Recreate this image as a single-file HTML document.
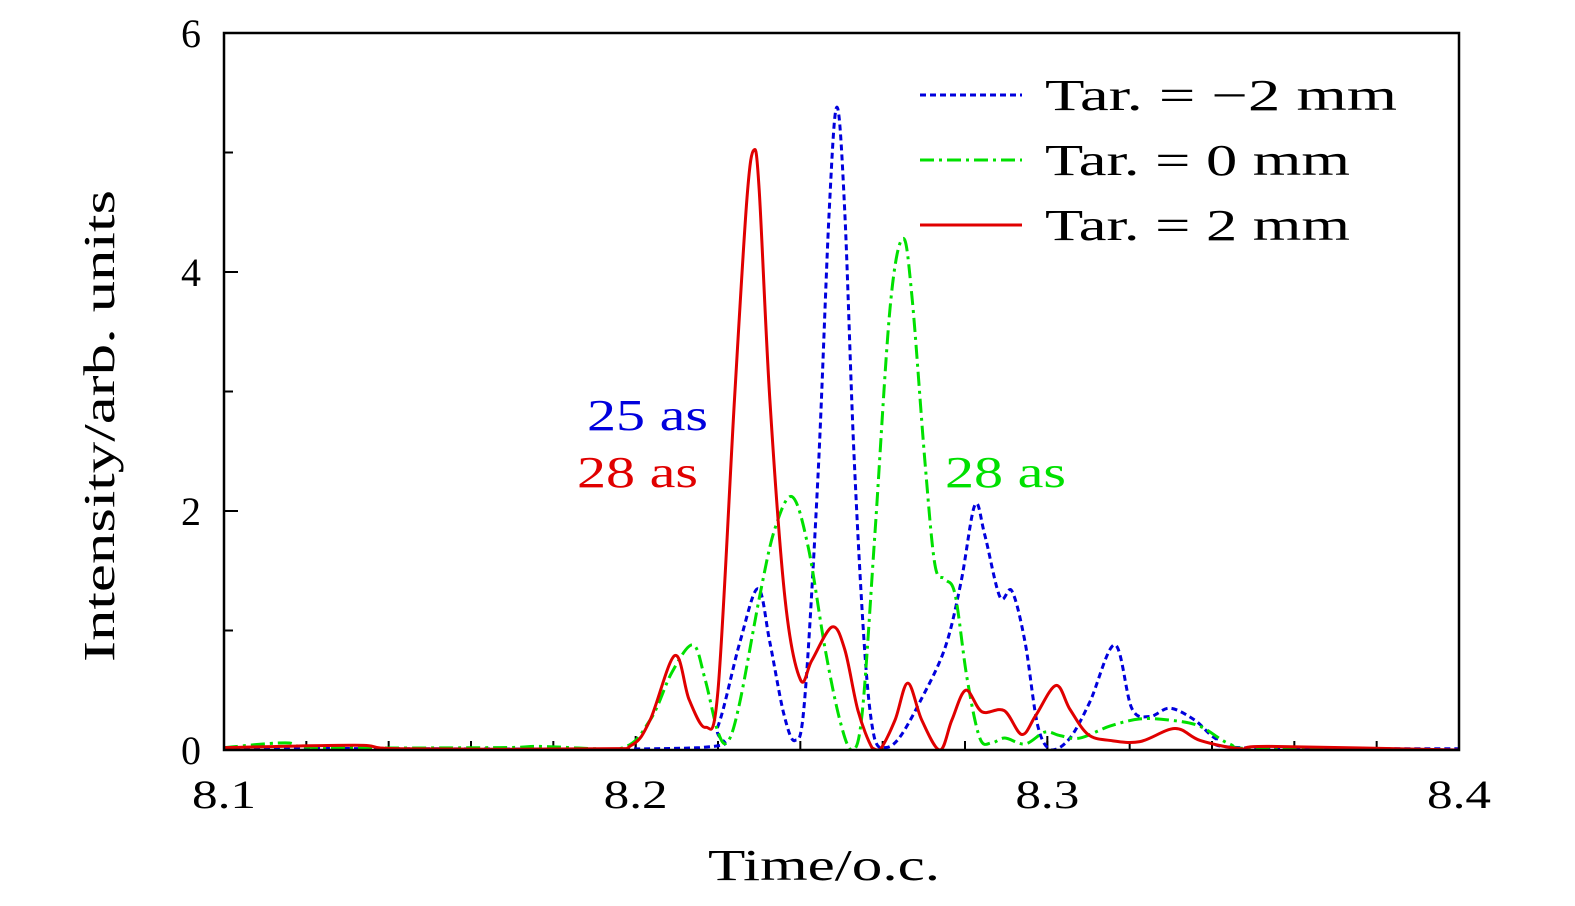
<!DOCTYPE html>
<html><head><meta charset="utf-8">
<style>
html,body{margin:0;padding:0;background:#fff;}
svg{display:block;font-family:"Liberation Serif",serif;}
</style></head>
<body>
<svg id="chart" width="1575" height="906" viewBox="0 0 1575 906" xmlns="http://www.w3.org/2000/svg">
<g id="plot"></g>
</svg>
<script>
const xTicks = [8.1, 8.2, 8.3, 8.4];
const xTickLabels = ["8.1", "8.2", "8.3", "8.4"];
const yTicks = [0, 2, 4, 6];
const yTickLabels = ["0", "2", "4", "6"];

const redT = [8.100,8.132,8.143,8.191,8.199,8.2035,8.2095,8.213,8.217,8.220,8.224,8.227,8.2287,8.230,8.2326,8.2363,8.240,8.2428,8.2477,8.2508,8.254,8.2574,8.2593,8.263,8.2661,8.2695,8.2739,8.2768,8.2802,8.2841,8.2895,8.2938,8.2972,8.3021,8.3055,8.3099,8.3152,8.3225,8.331,8.3371,8.3468,8.354,8.4];
const redY = [0.02,0.04,0.01,0.01,0.04,0.25,0.79,0.42,0.19,0.50,2.93,4.6,5.02,4.69,2.93,1.26,0.59,0.75,1.03,0.84,0.33,0.02,0,0.25,0.56,0.25,0,0.25,0.50,0.32,0.33,0.13,0.29,0.54,0.34,0.13,0.08,0.07,0.18,0.08,0.01,0.03,0];

const blueT = [8.1,8.15,8.2156,8.22,8.2253,8.2297,8.2326,8.236,8.2387,8.241,8.2443,8.247,8.2489,8.2508,8.253,8.2557,8.258,8.2606,8.264,8.269,8.2751,8.279,8.2824,8.2848,8.2885,8.2914,8.2946,8.2977,8.3011,8.3055,8.3103,8.3164,8.3205,8.3249,8.3298,8.3358,8.3407,8.3468,8.4];
const blueY = [0.02,0.01,0.02,0.2,0.9,1.35,0.9,0.3,0.08,0.4,2.3,4.5,5.38,4.5,2.5,0.8,0.1,0.02,0.1,0.4,0.85,1.4,2.05,1.8,1.28,1.33,0.9,0.2,0.0,0.1,0.4,0.88,0.35,0.28,0.35,0.25,0.1,0.02,0.01];

const greenT = [8.1,8.1148,8.123,8.167,8.1768,8.196,8.2035,8.2088,8.2139,8.2168,8.22,8.2224,8.2253,8.2302,8.2338,8.238,8.2419,8.246,8.2496,8.2525,8.255,8.2581,8.2618,8.2649,8.2671,8.2703,8.2727,8.2751,8.2776,8.2805,8.2836,8.2865,8.2897,8.2946,8.2994,8.3031,8.3079,8.3152,8.3225,8.3298,8.337,8.3443,8.3516,8.4];
const greenY = [0.02,0.06,0.02,0.02,0.03,0.01,0.25,0.65,0.88,0.6,0.15,0.07,0.4,1.3,1.85,2.12,1.7,0.85,0.25,0.0,0.3,1.8,3.7,4.28,3.8,2.4,1.55,1.43,1.3,0.6,0.1,0.06,0.1,0.05,0.15,0.12,0.1,0.2,0.26,0.25,0.2,0.05,0.01,0];

const X0=224,X1=1459,Y0=750,Y1=33;
function sx(t){return X0+(t-8.1)/0.3*(X1-X0);}
function sy(v){return Y0-v/6*(Y0-Y1);}
const NS="http://www.w3.org/2000/svg";
const plot=document.getElementById('plot');
function mk(tag,attrs,parent){const e=document.createElementNS(NS,tag);for(const k in attrs)e.setAttribute(k,attrs[k]);(parent||plot).appendChild(e);return e;}
function pathFrom(T,Y){
  const p=T.map((t,i)=>[sx(t),sy(Y[i])]);
  let d=`M${p[0][0]},${p[0][1]}`;
  for(let i=0;i<p.length-1;i++){
    const a=p[Math.max(0,i-1)],b=p[i],c=p[i+1],e=p[Math.min(p.length-1,i+2)];
    let c1y=b[1]+(c[1]-a[1])/6, c2y=c[1]-(e[1]-b[1])/6;
    c1y=Math.min(c1y,Y0);c2y=Math.min(c2y,Y0);
    d+=` C${b[0]+(c[0]-a[0])/6},${c1y} ${c[0]-(e[0]-b[0])/6},${c2y} ${c[0]},${c[1]}`;
  }
  return d;
}
const defs=mk('defs',{});
const cp=mk('clipPath',{id:'clip'},defs);
mk('rect',{x:X0,y:Y1,width:X1-X0,height:Y0-Y1},cp);

for(let k=0;k<=15;k++){
  const t=8.1+k*0.02;
  const x=sx(t);
  const tk=mk('line',{x1:x,x2:x,y1:Y0,y2:Y0-9,stroke:'#000','stroke-width':2});
  
  
}
xTicks.forEach((t,i)=>{
  const x=sx(t);
  const tk=mk('line',{x1:x,x2:x,y1:Y0,y2:Y0-14,stroke:'#000','stroke-width':2});
  
  
  const lb=mk('text',{x:x,y:808,'text-anchor':'middle','font-size':40,fill:'#000',textLength:64,lengthAdjust:'spacingAndGlyphs'});
  lb.textContent=xTickLabels[i];
  
  
});
for(let v=0;v<=6;v++){
  const y=sy(v);
  const tk=mk('line',{x1:X0,x2:X0+(v%2===0?14:9),y1:y,y2:y,stroke:'#000','stroke-width':2});
  
  
}
yTicks.forEach((v,i)=>{
  const lb=mk('text',{x:201,y:sy(v)+14,'text-anchor':'end','font-size':40,fill:'#000'});
  lb.textContent=yTickLabels[i];
  
  
});

const g=mk('g',{'clip-path':'url(#clip)'});
const sb=mk('path',{d:pathFrom(blueT,blueY),fill:'none',stroke:'#0000dd','stroke-width':3,'stroke-dasharray':'6 4'},g);


const sg=mk('path',{d:pathFrom(greenT,greenY),fill:'none',stroke:'#00e000','stroke-width':3,'stroke-dasharray':'14 5 3 5'},g);


const sr=mk('path',{d:pathFrom(redT,redY),fill:'none',stroke:'#e00000','stroke-width':3},g);



const fr=mk('rect',{x:X0,y:Y1,width:X1-X0,height:Y0-Y1,fill:'none',stroke:'#000','stroke-width':2.5});



const leg=mk('g',{});


const legItems=[["Tar. = \u22122 mm",'#0000dd','6 4',95,352],["Tar. = 0 mm",'#00e000','14 5 3 5',160,305],["Tar. = 2 mm",'#e00000','',225,305]];
legItems.forEach(it=>{
  const en=mk('g',{},leg);
  
  
  const a={x1:920,x2:1022,y1:it[3],y2:it[3],stroke:it[1],'stroke-width':3};
  if(it[2])a['stroke-dasharray']=it[2];
  mk('line',a,en);
  const t=mk('text',{x:1045,y:it[3]+15,'font-size':44,fill:'#000',textLength:it[4],lengthAdjust:'spacingAndGlyphs'},en);
  t.textContent=it[0];
});

[["25 as",587,430,'#0000dd','annotation-25as-blue'],["28 as",577,487,'#e00000','annotation-28as-red'],["28 as",945,487,'#00e000','annotation-28as-green']].forEach(a=>{
  const t=mk('text',{x:a[1],y:a[2],'font-size':44,fill:a[3],textLength:121,lengthAdjust:'spacingAndGlyphs'});
  t.textContent=a[0];
  
  
});

const xt=mk('text',{x:824,y:880,'text-anchor':'middle','font-size':44,fill:'#000',textLength:232,lengthAdjust:'spacingAndGlyphs'});
xt.textContent='Time/o.c.';


const yt=mk('text',{x:0,y:0,'text-anchor':'middle','font-size':44,fill:'#000',transform:'translate(114,426) rotate(-90)',textLength:472,lengthAdjust:'spacingAndGlyphs'});
yt.textContent='Intensity/arb. units';


</script>
</body></html>
